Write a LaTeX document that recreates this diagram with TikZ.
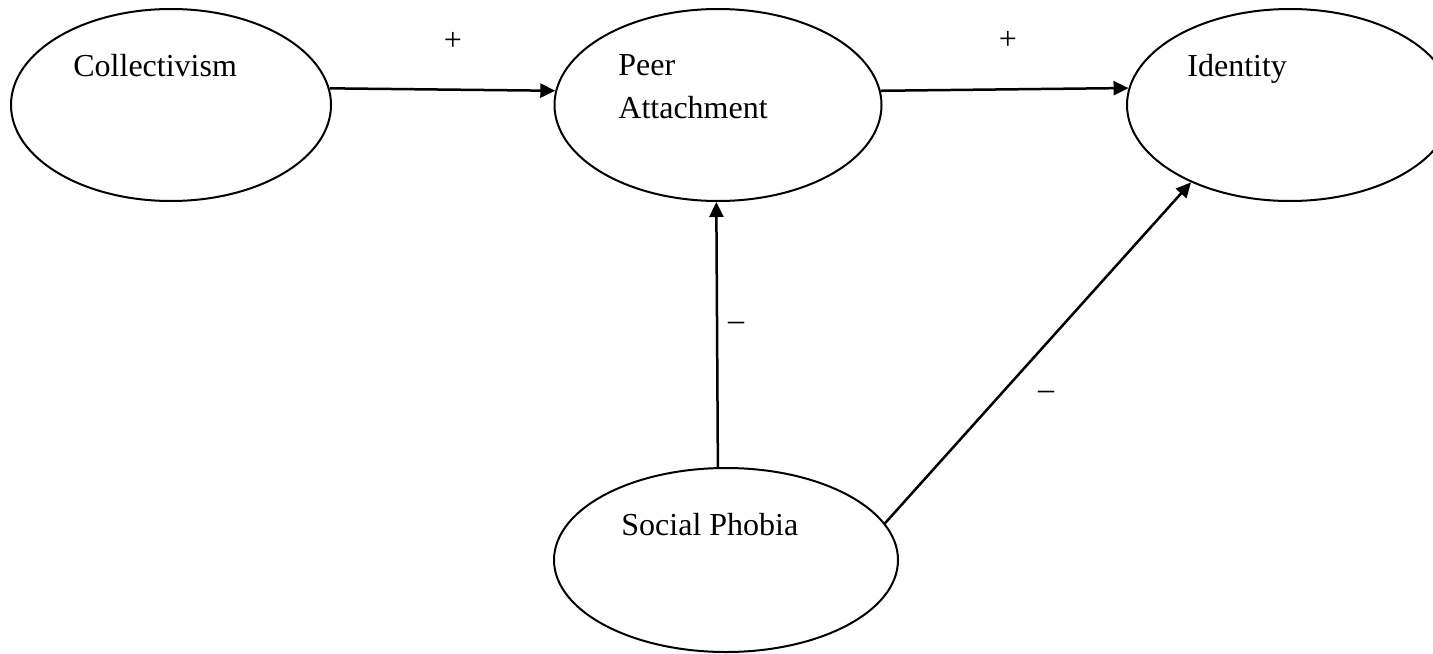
\documentclass[tikz,border=0pt]{standalone}
\usepackage{fontspec}
\setmainfont{Liberation Serif}
\usetikzlibrary{arrows.meta,shapes.geometric}
\begin{document}
\begin{tikzpicture}[x=0.5pt,y=-0.5pt,
  construct/.style={draw=black,line width=1pt,ellipse,inner sep=0pt},
  lbl/.style={inner sep=0pt,anchor=base west,font=\fontsize{16}{19}\selectfont},
  sign/.style={inner sep=0pt,font=\fontsize{16}{19}\selectfont},
  link/.style={draw=black,line width=1.25pt,-{Triangle[length=7.5pt,width=7pt]}}]
\useasboundingbox (0,0) rectangle (1433,653);
\node[construct,minimum width=160pt,minimum height=96pt] (coll) at (171,105) {};
\node[construct,minimum width=163.5pt,minimum height=96pt] (peer) at (718,105) {};
\node[construct,minimum width=163pt,minimum height=96pt] (ident) at (1290,105) {};
\node[construct,minimum width=172pt,minimum height=92pt] (soc) at (726,560) {};
\node[lbl] (tcoll) at (73,76) {Collectivism};
\node[lbl] (tpeer1) at (618,75) {Peer};
\node[lbl] (tpeer2) at (618,118) {Attachment};
\node[lbl] (tident) at (1187,76) {Identity};
\node[lbl] (tsoc) at (621,535) {Social Phobia};
\draw[link] (coll.6.5) -- (peer.175.6);
\draw[link] (peer.5.3) -- (ident.174.7);
\draw[link] (soc.95.6) -- (peer.269);
\draw[link] (soc.13.6) -- (ident.218.5);
\node[sign] (s1) at (453,41) {+};
\node[sign] (s2) at (1008,40) {+};
\node[sign] (s3) at (736,326) {--};
\node[sign] (s4) at (1046,395) {--};
\end{tikzpicture}
\end{document}
